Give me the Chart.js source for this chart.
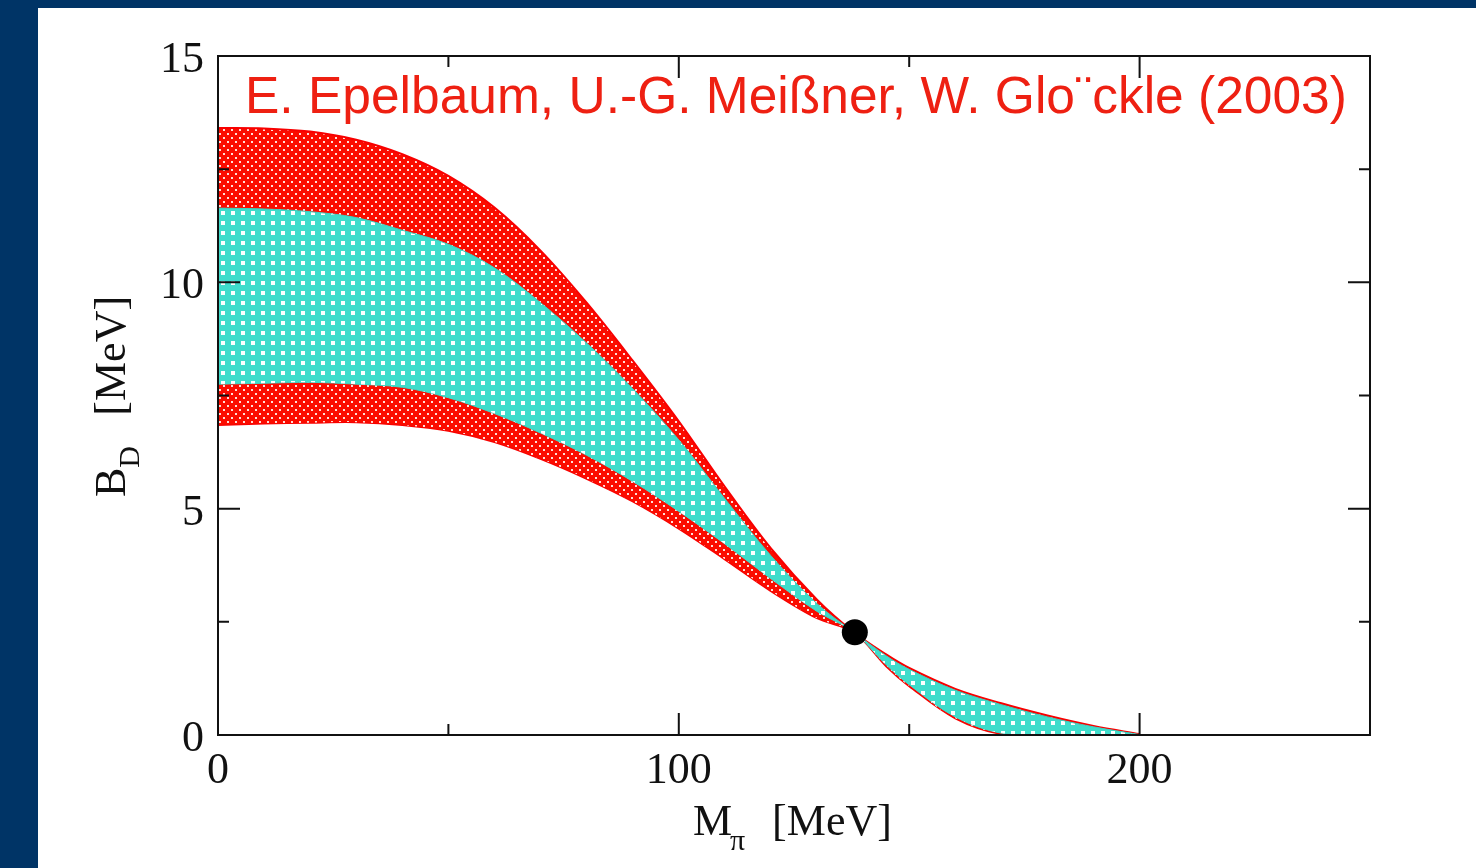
<!DOCTYPE html>
<html>
<head>
<meta charset="utf-8">
<script src="https://cdn.jsdelivr.net/npm/chart.js@4.4.1/dist/chart.umd.min.js"></script>
<style>
  html, body { margin: 0; padding: 0; width: 1476px; height: 868px; overflow: hidden; background: #003466; }
  #wrap { position: absolute; left: 38px; top: 8px; width: 1438px; height: 860px; background: #fff; }
</style>
</head>
<body>
<div id="wrap"><canvas id="chart" width="1438" height="860"></canvas></div>
<script>
const mPi = [0, 10, 20, 30, 40, 50, 60, 70, 80, 90, 100, 110, 120, 130, 138, 145, 150, 160, 170, 180, 190, 200];

// outer (red) band
const redUpper = [13.41, 13.40, 13.33, 13.15, 12.83, 12.35, 11.65, 10.70, 9.55, 8.27, 6.93, 5.48, 4.12, 2.99, 2.27, 1.78, 1.48, 1.02, 0.70, 0.43, 0.20, 0.02];
const redLower = [6.85, 6.88, 6.90, 6.91, 6.85, 6.72, 6.47, 6.10, 5.66, 5.16, 4.56, 3.88, 3.18, 2.58, 2.27, 1.52, 1.08, 0.37, 0.02, 0, 0, 0];

// inner (turquoise) band
const tealUpper = [11.64, 11.62, 11.56, 11.43, 11.15, 10.84, 10.32, 9.55, 8.66, 7.65, 6.52, 5.22, 3.96, 2.9, 2.27, 1.75, 1.45, 0.99, 0.67, 0.40, 0.18, 0.01];
const tealLower = [7.75, 7.77, 7.79, 7.75, 7.68, 7.45, 7.1, 6.67, 6.18, 5.6, 4.94, 4.22, 3.45, 2.73, 2.27, 1.55, 1.11, 0.40, 0.04, 0, 0, 0];

// physical point
const physPoint = [{ x: 138.2, y: 2.27 }];

// ticks
const xMajor = [0, 100, 200];
const xMinor = [50, 150, 250];
const yMajor = [0, 5, 10, 15];
const yMinor = [2.5, 7.5, 12.5];

const authors = "E. Epelbaum, U.-G. Meißner, W. Glo¨ckle (2003)";

function toPoints(vals) {
  return mPi.map((m, i) => ({ x: m, y: vals[i] }));
}

function makePattern(bg, dot, size, spots, dotSize) {
  const c = document.createElement("canvas");
  c.width = size;
  c.height = size;
  const g = c.getContext("2d");
  g.fillStyle = bg;
  g.fillRect(0, 0, size, size);
  g.fillStyle = dot;
  spots.forEach(([x, y]) => g.fillRect(x, y, dotSize, dotSize));
  return g.createPattern(c, "repeat");
}

const redFill = makePattern("#fb0c00", "rgba(255,235,230,0.95)", 8, [[1, 1], [5, 5]], 2);
const tealFill = makePattern("#3fdccb", "#ffffff", 10, [[3, 3]], 4);

const serif = "'Liberation Serif', 'DejaVu Serif', serif";

// frame, inward ticks, labels and titles
const framePlugin = {
  id: "frame",
  afterDraw(chart) {
    const { ctx, chartArea: a, scales } = chart;
    const xs = scales.x, ys = scales.y;
    ctx.save();
    ctx.strokeStyle = "#111";
    ctx.lineWidth = 2;
    ctx.strokeRect(a.left, a.top, a.right - a.left, a.bottom - a.top);

    const tick = (v, len, axis) => {
      ctx.beginPath();
      if (axis === "x") {
        const p = xs.getPixelForValue(v);
        ctx.moveTo(p, a.bottom); ctx.lineTo(p, a.bottom - len);
        ctx.moveTo(p, a.top); ctx.lineTo(p, a.top + len);
      } else {
        const p = ys.getPixelForValue(v);
        ctx.moveTo(a.left, p); ctx.lineTo(a.left + len, p);
        ctx.moveTo(a.right, p); ctx.lineTo(a.right - len, p);
      }
      ctx.stroke();
    };
    xMajor.forEach((v) => tick(v, 22, "x"));
    xMinor.forEach((v) => tick(v, 11, "x"));
    yMajor.forEach((v) => tick(v, 22, "y"));
    yMinor.forEach((v) => tick(v, 11, "y"));

    ctx.fillStyle = "#111";
    ctx.font = "44px " + serif;
    ctx.textBaseline = "alphabetic";
    ctx.textAlign = "center";
    xMajor.forEach((v) => ctx.fillText(String(v), xs.getPixelForValue(v), a.bottom + 48));
    ctx.textAlign = "right";
    yMajor.forEach((v) => ctx.fillText(String(v), a.left - 14, ys.getPixelForValue(v) + 16));

    // x title: M_pi [MeV]
    ctx.textAlign = "left";
    const tx = 655;
    ctx.fillText("M", tx, 827);
    const mw = ctx.measureText("M").width;
    ctx.font = "30px " + serif;
    ctx.fillText("π", tx + mw - 2, 842);
    ctx.font = "44px " + serif;
    ctx.fillText("[MeV]", tx + mw + 40, 827);

    // y title: B_D [MeV]
    ctx.save();
    ctx.translate(87, 489);
    ctx.rotate(-Math.PI / 2);
    ctx.fillText("B", 0, 0);
    const bw = ctx.measureText("B").width;
    ctx.font = "30px " + serif;
    ctx.fillText("D", bw, 14);
    ctx.font = "44px " + serif;
    ctx.fillText("[MeV]", bw + 52, 0);
    ctx.restore();

    // authors
    ctx.fillStyle = "#ee2012";
    ctx.font = "51.5px 'Liberation Sans', Arial, sans-serif";
    ctx.textAlign = "left";
    ctx.fillText(authors, 207, 105);
    ctx.restore();
  },
};

new Chart(document.getElementById("chart"), {
  type: "line",
  data: {
    datasets: [
      {
        type: "scatter",
        data: physPoint,
        pointRadius: 13,
        pointBackgroundColor: "#000",
        pointBorderWidth: 0,
      },
      {
        data: toPoints(tealUpper),
        borderColor: "#3fd0c0",
        borderWidth: 1,
        backgroundColor: tealFill,
        fill: "+1",
      },
      {
        data: toPoints(tealLower),
        borderColor: "#3fd0c0",
        borderWidth: 1,
        fill: false,
      },
      {
        data: toPoints(redUpper),
        borderColor: "#f80000",
        borderWidth: 2,
        backgroundColor: redFill,
        fill: "+1",
      },
      {
        data: toPoints(redLower),
        borderColor: "#f80000",
        borderWidth: 2,
        fill: false,
      },
    ],
  },
  options: {
    responsive: false,
    animation: false,
    layout: { padding: { left: 180, top: 48, right: 106, bottom: 133 } },
    elements: {
      point: { radius: 0 },
      line: { tension: 0.35 },
    },
    plugins: {
      legend: { display: false },
      tooltip: { enabled: false },
    },
    scales: {
      x: { type: "linear", min: 0, max: 250, display: false },
      y: { type: "linear", min: 0, max: 15, display: false },
    },
  },
  plugins: [framePlugin],
});
</script>
</body>
</html>
